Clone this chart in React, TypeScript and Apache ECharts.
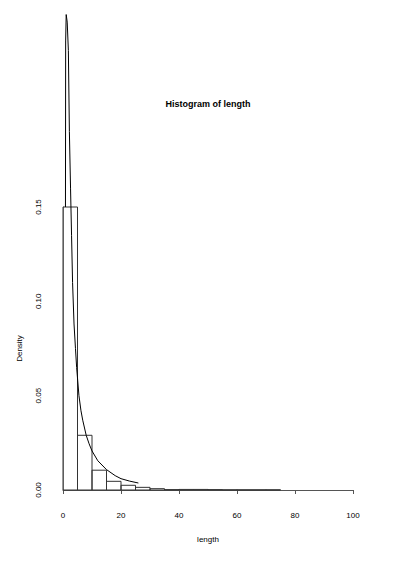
import React, { useEffect, useRef } from "react";
import * as echarts from "echarts";

const binStarts = [0, 5, 10, 15, 20, 25, 30, 35, 40, 45, 50, 55, 60, 65, 70];
const binWidth = 5;
const binDensity = [0.15, 0.029, 0.0105, 0.0046, 0.0025, 0.0014, 0.0007, 0.0002, 0.0003, 0.0003, 0.0002, 0.0001, 0.0001, 0.0001, 0.0001];
const curveX = [0.85, 0.92, 1.1, 1.45, 1.85, 2.2, 2.6, 2.95, 3.3, 3.8, 4.3, 4.7, 5.5, 6.2, 6.8, 8, 9, 10, 12, 15, 18, 20, 23, 26];
const curveY = [0.15, 0.238, 0.252, 0.248, 0.233, 0.19, 0.16, 0.135, 0.11, 0.088, 0.075, 0.065, 0.05, 0.042, 0.037, 0.029, 0.0245, 0.0207, 0.0155, 0.0108, 0.0076, 0.006, 0.0047, 0.0037];
const xTicks = [0, 20, 40, 60, 80, 100];
const yTicks = [0, 0.05, 0.1, 0.15];

const FONT = "Liberation Sans";

export default function App() {
  const ref = useRef<HTMLDivElement>(null);
  useEffect(() => {
    document.body.style.margin = "0";
    const chart = echarts.init(ref.current!, null, { renderer: "svg" });
    const barData = binStarts.map((s, i) => [s, s + binWidth, binDensity[i]]);
    const lineData = curveX.map((x, i) => [x, curveY[i]]);
    chart.setOption({
      animation: false,
      backgroundColor: "#ffffff",
      graphic: [
        {
          type: "text",
          x: 208,
          y: 104,
          style: {
            text: "Histogram of length",
            fontFamily: FONT,
            fontSize: 9,
            fontWeight: "bold",
            fill: "#000",
            textAlign: "center",
            textVerticalAlign: "middle",
          },
        },
      ],
      grid: { left: 63, right: 44, top: 207, bottom: 72 },
      xAxis: {
        type: "value",
        min: xTicks[0],
        max: xTicks[xTicks.length - 1],
        interval: 20,
        offset: 12,
        name: "length",
        nameLocation: "middle",
        nameGap: 33,
        nameTextStyle: { fontFamily: FONT, fontSize: 8, color: "#000" },
        axisLine: { show: true, lineStyle: { color: "#555", width: 1 } },
        axisTick: { show: true, length: 4, lineStyle: { color: "#555" } },
        axisLabel: { fontFamily: FONT, fontSize: 8, color: "#000", margin: 9 },
        splitLine: { show: false },
      },
      yAxis: {
        type: "value",
        min: yTicks[0],
        max: yTicks[yTicks.length - 1],
        interval: 0.05,
        offset: 10,
        name: "Density",
        nameLocation: "middle",
        nameRotate: 90,
        nameGap: 30,
        nameTextStyle: { fontFamily: FONT, fontSize: 8, color: "#000" },
        axisLine: { show: true, lineStyle: { color: "#888", width: 1 } },
        axisTick: { show: false },
        axisLabel: {
          fontFamily: FONT,
          fontSize: 8,
          color: "#000",
          rotate: 90,
          margin: 11,
          formatter: (v: number) => v.toFixed(2),
        },
        splitLine: { show: false },
      },
      series: [
        {
          type: "custom",
          data: barData,
          renderItem: (params: any, api: any) => {
            const p0 = api.coord([api.value(0), api.value(2)]);
            const p1 = api.coord([api.value(1), 0]);
            return {
              type: "rect",
              shape: { x: p0[0], y: p0[1], width: p1[0] - p0[0], height: p1[1] - p0[1] },
              style: { fill: "none", stroke: "#333", lineWidth: 1 },
            };
          },
          z: 2,
        },
        {
          type: "line",
          data: lineData,
          showSymbol: false,
          smooth: false,
          clip: false,
          lineStyle: { color: "#000", width: 1 },
          z: 3,
        },
      ],
    });
    return () => chart.dispose();
  }, []);
  return <div ref={ref} style={{ width: 397, height: 562 }} />;
}
